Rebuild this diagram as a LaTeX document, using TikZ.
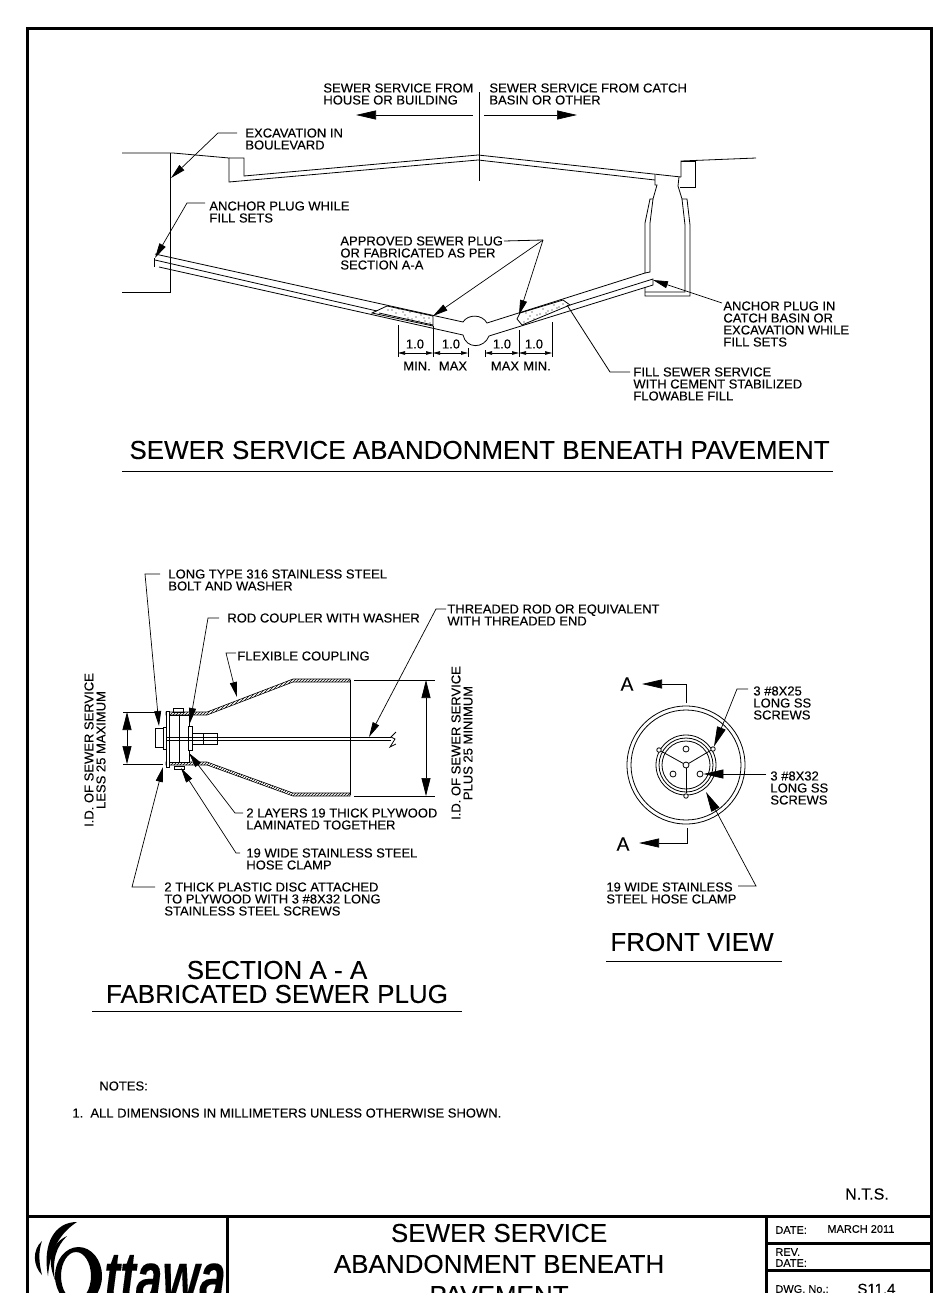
\documentclass[tikz,border=0pt]{standalone}
\usepackage{fontspec}
\setmainfont{Liberation Sans}[FakeBold=0.15]
\usetikzlibrary{arrows.meta, patterns}
\tikzstyle{lbl} = [font=\fontsize{13}{12}\selectfont, align=left, anchor=north west, inner sep=0]
\tikzstyle{dimtxt} = [font=\fontsize{13}{12}\selectfont, anchor=center, inner sep=0]
\tikzstyle{headline} = [font=\fontsize{26}{26}\selectfont, anchor=center, inner sep=0]
\tikzstyle{sidelbl} = [lbl, rotate=90, align=center, anchor=center]
\tikzstyle{blocktxt} = [font=\fontsize{11}{11}\selectfont, align=left, anchor=west, inner sep=0]
\tikzstyle{leader} = [-{Stealth[inset=0pt,length=15pt,width=7pt]}, line width=.7pt]
\tikzstyle{bigleader} = [-{Stealth[inset=0pt,length=20pt,width=9pt]}, line width=.7pt]
\tikzstyle{dimsmall} = [{Stealth[inset=0pt,length=7pt,width=3.5pt]}-{Stealth[inset=0pt,length=7pt,width=3.5pt]}, line width=.7pt]
\tikzstyle{dimbig} = [{Stealth[inset=0pt,length=18pt,width=9pt]}-{Stealth[inset=0pt,length=18pt,width=9pt]}, line width=.7pt]
\tikzstyle{hose} = [draw, line width=.6pt, pattern=north east lines]
\begin{document}
\begin{tikzpicture}[x=1pt, y=-1pt, line width=.8pt]
  \useasboundingbox (0,0) rectangle (934,1293);

  % sheet frame and title block
  \draw[line width=3pt] (27,1300) -- (27,28) -- (931,28) -- (931,1300);
  \draw[line width=3pt] (27,1216) -- (931,1216);
  \draw[line width=3pt] (227,1216) -- (227,1300);
  \draw[line width=3pt] (766,1216) -- (766,1300);
  \draw[line width=3pt] (766,1243) -- (931,1243);
  \draw[line width=3pt] (766,1270) -- (931,1270);

  % sewer profile: ground and road
  \draw (122,153) -- (173,153) -- (229,158) -- (229,182) -- (478,160) -- (655,180);
  \draw (229,158) -- (244,158) -- (244,176) -- (478,155) -- (681,177);
  \draw (681,177) -- (681,161) -- (756,158);
  \draw (681,161) -- (695,161) -- (695,187) -- (680,187);
  \draw (122,292) -- (170,292) -- (170,153);
  \draw (479,92) -- (479,181);
  % catch basin
  \draw (655,175) -- (655,185) -- (657,185) -- (653,199) -- (650,199) -- (645,223) -- (645,273);
  \draw (653,199) -- (650,223) -- (650,272) -- (645,273);
  \draw (679,177) -- (678,186) -- (682,199) -- (687,199) -- (690,225) -- (690,296) -- (645,296) -- (645,287);
  \draw (682,199) -- (685,225) -- (685,292) -- (645,292);
  % pipe
  \draw (155,254) -- (463,322) .. controls (468,314) and (482,314) .. (487,323) -- (645,273);
  \draw (159,267) -- (463,335) .. controls (466,349) and (484,349) .. (489,336) -- (653,285) -- (653,279) -- (570,305);
  \draw (155,260) -- (377,311);
  \draw (154,258) -- (154,267);
  % plugs, 1st pass outline and 2nd pass stipple
  \draw (372,313) -- (387,306) -- (433,316) -- (433,326) -- cycle;
  \draw (379,313) -- (433,325);
  \draw (517,319) -- (520,313) -- (563,300) -- (570,305) -- (522,325) -- cycle;
  \foreach \x/\y in {392/310,399/309,405/315,410/312,416/317,421/315,425/321,429/318,396/313,412/319,
                     403/312,419/321,430/323,388/310,408/318,424/318}
    \fill (\x,\y) circle (.6);
  \foreach \x/\y in {526/313,532/312,537/315,543/309,548/311,554/305,559/307,563/304,528/319,534/319,
                     540/314,546/313,552/310,524/322,557/308,530/316}
    \fill (\x,\y) circle (.6);

  % sewer profile: arrows and dimensions
  \coordinate (flowMid) at (479,115);
  \draw[bigleader] ([xshift=-6pt]flowMid) -- (356,115);
  \draw[bigleader] ([xshift=5pt]flowMid) -- (577,115);
  \draw (398,325) -- (398,357);
  \draw (433,326) -- (433,357);
  \draw (468,348) -- (468,357);
  \draw (485,350) -- (485,357);
  \draw (519,330) -- (519,357);
  \draw (552,322) -- (552,357);
  \coordinate (dimA) at (398,353);
  \coordinate (dimB) at (433,353);
  \coordinate (dimC) at (468,353);
  \coordinate (dimD) at (485,353);
  \coordinate (dimE) at (519,353);
  \coordinate (dimF) at (552,353);
  \draw[dimsmall] (dimA) -- (dimB);
  \draw[dimsmall] (dimB) -- (dimC);
  \draw[dimsmall] (dimD) -- (dimE);
  \draw[dimsmall] (dimE) -- (dimF);
  \node[dimtxt] (dimOneA) at (415,344) {1.0};
  \node[dimtxt] (dimOneB) at (451,344) {1.0};
  \node[dimtxt] (dimOneC) at (502,344) {1.0};
  \node[dimtxt] (dimOneD) at (534,344) {1.0};
  \node[dimtxt] (dimMinA) at (417,366) {MIN.};
  \node[dimtxt] (dimMaxA) at (453,366) {MAX};
  \node[dimtxt] (dimMaxB) at (505,366) {MAX};
  \node[dimtxt] (dimMinB) at (537,366) {MIN.};

  % sewer profile: labels
  \node[lbl] (fromHouse) at (323,83) {SEWER SERVICE FROM\\HOUSE OR BUILDING};
  \node[lbl] (fromBasin) at (489,83) {SEWER SERVICE FROM CATCH\\BASIN OR OTHER};
  \node[lbl] (excav) at (245,128) {EXCAVATION IN\\BOULEVARD};
  \node[lbl] (anchorFill) at (209,201) {ANCHOR PLUG WHILE\\FILL SETS};
  \node[lbl] (approved) at (340,236) {APPROVED SEWER PLUG\\OR FABRICATED AS PER\\SECTION A-A};
  \node[lbl] (anchorBasin) at (723,301) {ANCHOR PLUG IN\\CATCH BASIN OR\\EXCAVATION WHILE\\FILL SETS};
  \node[lbl] (fillService) at (633,367) {FILL SEWER SERVICE\\WITH CEMENT STABILIZED\\FLOWABLE FILL};
  \coordinate (excavTip) at (171,178);
  \coordinate (anchorTip) at (155,258);
  \coordinate (plugLeft) at (433,316);
  \coordinate (plugRight) at (519,315);
  \coordinate (plugKnee) at (543,240);
  \coordinate (basinTip) at (653,280);
  \coordinate (fillEnd) at (567,305);
  \draw[leader] ([shift={(-8,5)}]excav.north west) -- (218,133) -- (excavTip);
  \draw[leader] ([shift={(-4,2)}]anchorFill.north west) -- (187,203) -- (anchorTip);
  \draw ([shift={(164,5)}]approved.north west) -- (plugKnee);
  \draw[leader] (plugKnee) -- (plugLeft);
  \draw[leader] (plugKnee) -- (plugRight);
  \draw[leader] ([shift={(-1,2)}]anchorBasin.north west) -- (basinTip);
  \draw ([shift={(-3,5)}]fillService.north west) -- (610,372) -- (fillEnd);

  \node[headline] (titleProfile) at (479.5,450) {SEWER SERVICE ABANDONMENT BENEATH PAVEMENT};
  \draw (122,471) -- (833,471);

  % section A-A: coupling
  \draw[hose] (166,712) -- (207,712) -- (293,679) -- (350,679) -- (350,682) -- (293,682) -- (207,715) -- (166,715) -- cycle;
  \draw[hose] (166,762) -- (207,762) -- (293,793) -- (350,793) -- (350,796) -- (293,796) -- (207,765) -- (166,765) -- cycle;
  \draw (350,680) -- (350,795);
  % section A-A: plug
  \draw[fill=white] (166,711) rectangle (169,767);
  \draw[fill=white] (169,715) rectangle (189,762);
  \draw (179,715) -- (179,762);
  \draw (173,708) rectangle (183,712);
  \draw (174,766) rectangle (184,769);
  \draw (155,728) rectangle (163,747);
  \draw[fill=white] (163,727) rectangle (166,749);
  \draw[fill=white] (188,726) rectangle (192,750);
  \draw (192,733) rectangle (217,744);
  \draw (203,733) -- (203,744);
  \draw (166,737) -- (391,737);
  \draw (166,740) -- (391,740);
  \draw (396,732) -- (391,737) -- (395,739) -- (390,747) -- (396,744);

  % section A-A: dimensions
  \draw (123,712) -- (155,712);
  \draw (123,764) -- (163,764);
  \draw (354,680) -- (435,680);
  \draw (354,796) -- (435,796);
  \coordinate (holeTop) at (127,712);
  \coordinate (holeBot) at (127,764);
  \coordinate (pipeTop) at (426,680);
  \coordinate (pipeBot) at (426,796);
  \draw[dimbig] (holeTop) -- (holeBot);
  \draw[dimbig] (pipeTop) -- (pipeBot);
  \node[sidelbl] (lessMax) at (95,750) {I.D. OF SEWER SERVICE\\LESS 25 MAXIMUM};
  \node[sidelbl] (plusMin) at (462,743) {I.D. OF SEWER SERVICE\\PLUS 25 MINIMUM};

  % section A-A: labels
  \node[lbl] (longBolt) at (168,569) {LONG TYPE 316 STAINLESS STEEL\\BOLT AND WASHER};
  \node[lbl] (rodCoupler) at (227,613) {ROD COUPLER WITH WASHER};
  \node[lbl] (threadRod) at (447,604) {THREADED ROD OR EQUIVALENT\\WITH THREADED END};
  \node[lbl,anchor=north west] (flexCoupling) at (237,651) {FLEXIBLE COUPLING};
  \node[lbl] (plyLayers) at (246,808) {2 LAYERS 19 THICK PLYWOOD\\LAMINATED TOGETHER};
  \node[lbl] (hoseClamp) at (246,848) {19 WIDE STAINLESS STEEL\\HOSE CLAMP};
  \node[lbl] (plasticDisc) at (164,882) {2 THICK PLASTIC DISC ATTACHED\\TO PLYWOOD WITH 3 \#8X32 LONG\\STAINLESS STEEL SCREWS};
  \coordinate (boltTip) at (159,726);
  \coordinate (couplerTip) at (190,723);
  \coordinate (flexTip) at (237,697);
  \coordinate (rodTip) at (369,737);
  \coordinate (plyTip) at (189,753);
  \coordinate (clampTip) at (181,768);
  \coordinate (discTip) at (163,767);
  \draw[leader] ([shift={(-8,5)}]longBolt.north west) -- (145,574) -- (boltTip);
  \draw[leader] ([shift={(-8,5)}]rodCoupler.north west) -- (208,618) -- (couplerTip);
  \draw[leader] ([shift={(-1,2)}]flexCoupling.north west) -- (226,653) -- (flexTip);
  \draw[leader] ([shift={(-1,5)}]threadRod.north west) -- (436,609) -- (rodTip);
  \draw[leader] ([shift={(-3,5)}]plyLayers.north west) -- (235,813) -- (plyTip);
  \draw[leader] ([shift={(-6,5)}]hoseClamp.north west) -- (236,853) -- (clampTip);
  \draw[leader] ([shift={(-9,5)}]plasticDisc.north west) -- (132,887) -- (discTip);

  \node[headline] (titleSection) at (277,970) {SECTION A - A};
  \node[headline] (titleFabricated) at (277,994) {FABRICATED SEWER PLUG};
  \draw (92,1011) -- (462,1011);

  % front view
  \foreach \r in {59,55,30,27,24}
    \draw (686,765) circle (\r);
  \node[circle,draw,inner sep=0,minimum size=6pt] (screwHub) at (686,765) {};
  \foreach \name/\x/\y in {screwTop/686/749,screwLeft/673/774,screwRight/700/774}
    \node[circle,draw,inner sep=0,minimum size=6pt] (\name) at (\x,\y) {};
  \foreach \name/\x/\y in {rimLeft/659/750,rimRight/713/749,rimBot/686/796}{
    \node[circle,draw,fill=white,inner sep=0,minimum size=4.5pt] (\name) at (\x,\y) {};
    \draw (screwHub) -- (\name);
  }
  \node[font=\fontsize{19}{19}\selectfont,inner sep=0] (markTop) at (627,684) {A};
  \node[font=\fontsize{19}{19}\selectfont,inner sep=0] (markBot) at (623,844) {A};
  \coordinate (cutTop) at (686,703);
  \coordinate (cutBot) at (687,828);
  \coordinate (arrowTop) at (642,684);
  \coordinate (arrowBot) at (639,843);
  \draw[bigleader] (cutTop) -- (686,684) -- (arrowTop);
  \draw[bigleader] (cutBot) -- (687,843) -- (arrowBot);
  \node[lbl] (screwsLong) at (753,686) {3 \#8X25\\LONG SS\\SCREWS};
  \node[lbl] (screwsShort) at (770,771) {3 \#8X32\\LONG SS\\SCREWS};
  \node[lbl] (frontClamp) at (606,882) {19 WIDE STAINLESS\\STEEL HOSE CLAMP};
  \coordinate (frontClampTip) at (706,792);
  \draw[bigleader] ([shift={(-5,3)}]screwsLong.north west) -- (737,689) -- (rimRight);
  \draw[bigleader] ([shift={(-4,3)}]screwsShort.north west) -- (screwRight);
  \draw[bigleader] ([shift={(132,4)}]frontClamp.north west) -- (756,886) -- (frontClampTip);
  \node[headline] (titleFront) at (692,942) {FRONT VIEW};
  \draw (606,961) -- (782,961);

  % notes and title block texts
  \node[font=\fontsize{13}{13}\selectfont,anchor=west,inner sep=0] (notesHead) at (99,1086) {NOTES:};
  \node[font=\fontsize{13}{13}\selectfont,anchor=west,inner sep=0] (noteOne) at (72,1113) {1.\ \ ALL DIMENSIONS IN MILLIMETERS UNLESS OTHERWISE SHOWN.};
  \node[font=\fontsize{16}{16}\selectfont,inner sep=0] (scaleNote) at (867,1194) {N.T.S.};
  \node[headline] (sheetA) at (499,1233) {SEWER SERVICE};
  \node[headline] (sheetB) at (499,1264) {ABANDONMENT BENEATH};
  \node[headline] (sheetC) at (499,1295) {PAVEMENT};
  \node[blocktxt] (dateKey) at (775,1230) {DATE:};
  \node[blocktxt] (dateVal) at (827,1229) {MARCH 2011};
  \node[blocktxt,font=\fontsize{11}{11}\selectfont] (revKey) at (775,1257.5) {REV.\\DATE:};
  \node[blocktxt] (dwgKey) at (775,1289) {DWG. No.:};
  \node[blocktxt,font=\fontsize{15}{15}\selectfont] (dwgVal) at (857,1289) {S11.4};

  % logo
  \node[font=\fontsize{72}{72}\selectfont\bfseries\itshape,xscale=.66,anchor=base west,inner sep=0] (logoWord) at (104,1302) {ttawa};
  \fill[even odd rule] (78.5,1276) ellipse [x radius=23.5, y radius=29] (76,1276) ellipse [x radius=15, y radius=24];
  \fill (77,1222) .. controls (55,1222) and (42,1243) .. (48,1276) .. controls (50,1250) and (60,1233) .. (77,1222) -- cycle;
  \fill (67,1236) .. controls (52,1243) and (46,1258) .. (55,1280) .. controls (52,1260) and (56,1247) .. (67,1236) -- cycle;
  \fill (42,1241) .. controls (32,1250) and (33,1266) .. (42,1275) .. controls (39,1263) and (38,1252) .. (42,1241) -- cycle;
\end{tikzpicture}
\end{document}
